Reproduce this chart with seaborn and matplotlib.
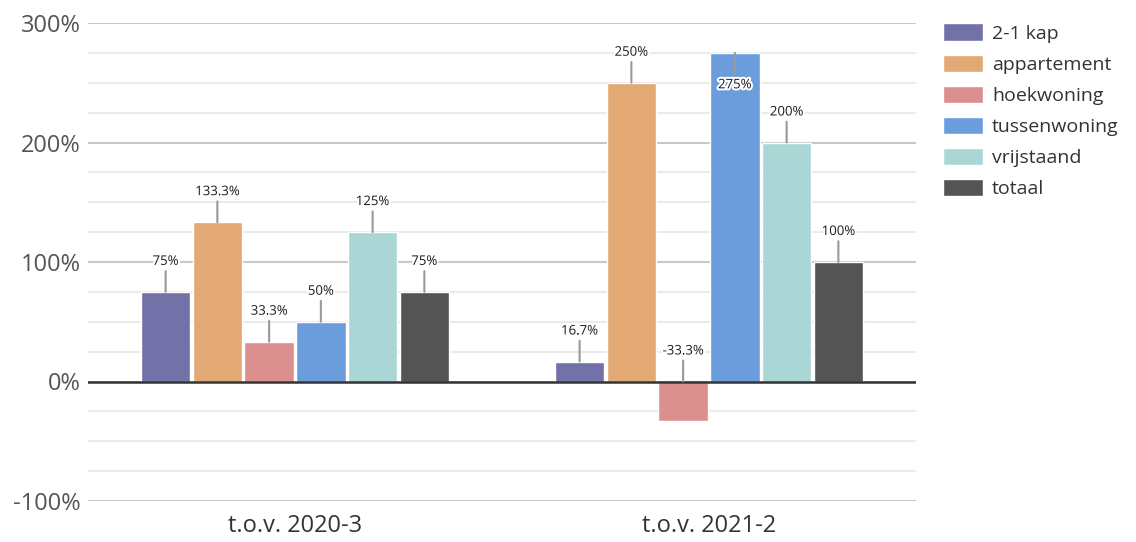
import pandas as pd
import matplotlib.pyplot as plt
import matplotlib.patheffects as pe
from matplotlib.ticker import MultipleLocator, FuncFormatter
import seaborn as sns

periodes = ["t.o.v. 2020-3", "t.o.v. 2021-2"]
types = ["2-1 kap", "appartement", "hoekwoning", "tussenwoning", "vrijstaand", "totaal"]
waarden_2020_3 = [75, 133.3, 33.3, 50, 125, 75]
waarden_2021_2 = [16.7, 250, -33.3, 275, 200, 100]
kleuren = ["#7372a8", "#e2a975", "#dc8f8f", "#6b9ddd", "#abd6d6", "#545454"]

rows = []
for t, a, b in zip(types, waarden_2020_3, waarden_2021_2):
    rows.append({"periode": periodes[0], "type": t, "waarde": a})
    rows.append({"periode": periodes[1], "type": t, "waarde": b})
df = pd.DataFrame(rows)

sns.set_style("white")
plt.rcParams["font.family"] = ["Open Sans", "DejaVu Sans"]

fig = plt.figure(figsize=(11.36, 5.42), dpi=100)
ax = fig.add_axes([88 / 1136, 1 - 501 / 542, 828 / 1136, 478 / 542])

sns.barplot(data=df, x="periode", y="waarde", hue="type", order=periodes,
            hue_order=types, palette=kleuren, width=0.75, gap=0.04,
            saturation=1, ax=ax, legend=True, zorder=3)

ax.set_ylim(-100, 300)
ax.yaxis.set_major_locator(MultipleLocator(100))
ax.yaxis.set_minor_locator(MultipleLocator(25))
ax.yaxis.set_major_formatter(FuncFormatter(lambda v, p: f"{v:.0f}%"))
ax.grid(axis="y", which="major", color="#c8c8c8", lw=1.5, zorder=0)
ax.grid(axis="y", which="minor", color="#ebebeb", lw=1.5, zorder=0)
ax.axhline(0, color="#333333", lw=1.8, zorder=4)
ax.set_axisbelow(True)
sns.despine(ax=ax, left=True, bottom=True)
ax.tick_params(axis="both", which="both", length=0)
ax.tick_params(axis="y", labelsize=17, labelcolor="#555555", pad=5)
ax.tick_params(axis="x", labelsize=17, labelcolor="#333333", pad=9)
ax.set_xlabel("")
ax.set_ylabel("")

# labels met een verbindingslijntje
for cont, t in zip(ax.containers, types):
    for bar, periode in zip(cont, periodes):
        v = df[(df["type"] == t) & (df["periode"] == periode)]["waarde"].iloc[0]
        x = bar.get_x() + bar.get_width() / 2
        y = max(v, 0)
        off = 22 if v < 260 else -23
        lab = f"{v:g}%"
        ax.annotate(lab, xy=(x, y), xytext=(0, off), textcoords="offset points",
                    ha="center", va="center", fontsize=9.5, color="#1a1a1a",
                    arrowprops=dict(arrowstyle="-", color="#999999", lw=1.5,
                                    shrinkA=0, shrinkB=0),
                    path_effects=[pe.withStroke(linewidth=3, foreground="white")],
                    zorder=6)

handles, labels = ax.get_legend_handles_labels()
ax.get_legend().remove()
fig.legend(handles, labels, loc="upper left", bbox_to_anchor=(925 / 1136, 1 - 6 / 542),
           frameon=False, fontsize=14, handlelength=2.1, handleheight=1.0,
           labelspacing=0.6, handletextpad=0.45, labelcolor="#333333")

fig.savefig("out.png", dpi=100)
